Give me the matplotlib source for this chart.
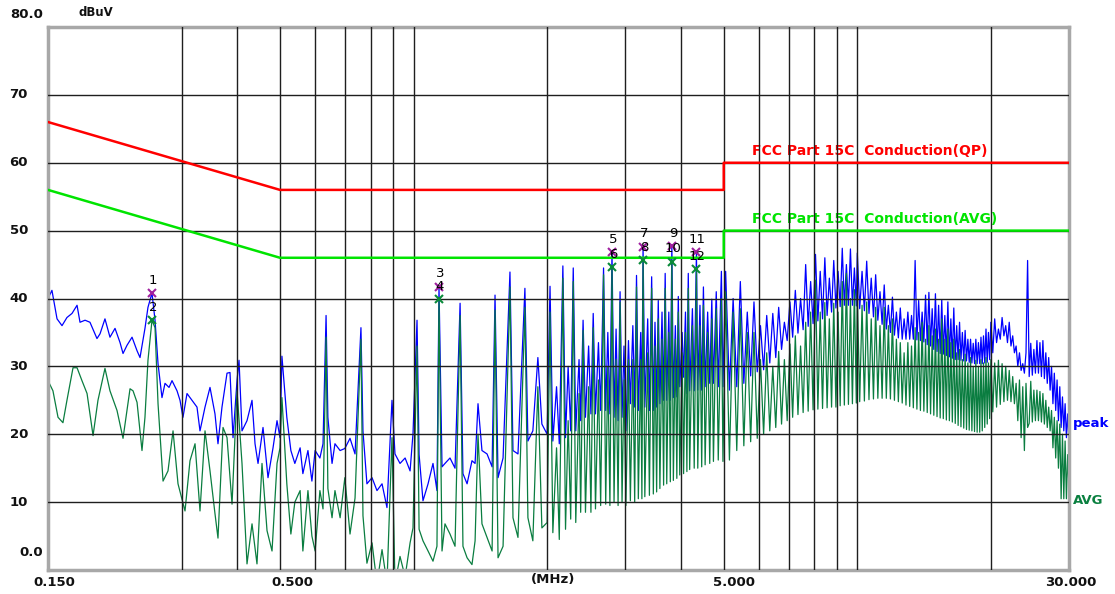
import numpy as np
import matplotlib
matplotlib.use("Agg")
import matplotlib.pyplot as plt
from matplotlib.ticker import NullLocator

# ---------------- data (MHz, dBuV) ----------------
# Region A 0.15-0.5 MHz (peak and average sampled separately)
A_peak_f = [0.150, 0.1531, 0.1572, 0.1613, 0.1655, 0.1699, 0.1744, 0.1771, 0.1818, 0.1865,
            0.1934, 0.1965, 0.2016, 0.2069, 0.2124, 0.2180, 0.2214, 0.2260, 0.2320, 0.2381,
            0.2418, 0.2481, 0.2520, 0.2573, 0.2614, 0.2655, 0.2710, 0.2753, 0.2811, 0.2855,
            0.2930, 0.2976, 0.3022, 0.3086, 0.3167, 0.3250, 0.3301, 0.3388, 0.3477, 0.3568,
            0.3624, 0.3700, 0.3798, 0.3857, 0.3918, 0.4000, 0.4042, 0.4105, 0.4213, 0.4324,
            0.4392, 0.4461, 0.4578, 0.4698, 0.4822, 0.4923]
A_peak_db = [40, 41.2, 37, 36, 37.2, 37.8, 39, 36.5, 36.8, 36.5,
             34.1, 34.8, 37, 34.3, 35.6, 33.5, 31.9, 33.1, 34.3, 32.3,
             31.3, 35.6, 38.7, 40.8, 36.8, 30.4, 25.4, 27.5, 26.9, 27.9,
             26.4, 25, 22.5, 26, 25, 24, 20.5, 24, 26.9, 23,
             18.6, 24, 29, 29.1, 19.5, 27.9, 30.9, 20.5, 22, 25,
             18.6, 15.7, 21, 13.6, 18, 22]
A_avg_f = [0.150, 0.1539, 0.1580, 0.1621, 0.1655, 0.1708, 0.1744, 0.1789, 0.1837, 0.1895,
           0.1944, 0.2016, 0.2069, 0.2146, 0.2214, 0.2296, 0.2332, 0.2381, 0.2443, 0.2481,
           0.2520, 0.2573, 0.2614, 0.2655, 0.2725, 0.2796, 0.2870, 0.2945, 0.3054, 0.3134,
           0.3217, 0.3301, 0.3388, 0.3477, 0.3568, 0.3624, 0.3720, 0.3798, 0.3898, 0.4000,
           0.4105, 0.4213, 0.4324, 0.4437, 0.4554, 0.4674, 0.4797, 0.4923]
A_avg_db = [27.9, 26.4, 22.5, 21.7, 25, 29.8, 29.8, 27.9, 26, 19.8,
            25, 29.7, 26.4, 23.5, 19.4, 26.7, 26.4, 24.7, 17.6, 22.5,
            30.9, 36.8, 35.7, 24.5, 13.1, 14.6, 20.5, 12.7, 8.7, 16.1,
            18.6, 8.7, 20.5, 14.6, 8.3, 4.7, 21, 19.5, 9.7, 26.4,
            15.7, 0.9, 6.8, 0.9, 15.7, 5.8, 2.8, 15.7]

# Region B 0.5-2 MHz (shared sweep points)
B_f = [0.500, 0.505, 0.518, 0.529, 0.540, 0.555, 0.563, 0.578, 0.590, 0.600,
       0.615, 0.625, 0.635, 0.641, 0.655, 0.665, 0.683, 0.700, 0.719, 0.738,
       0.761, 0.769, 0.785, 0.806, 0.827, 0.849, 0.871, 0.894, 0.908, 0.932,
       0.957, 0.982, 0.997, 1.018, 1.029, 1.050, 1.078, 1.106, 1.129, 1.141,
       1.159, 1.177, 1.208, 1.240, 1.273, 1.292, 1.320, 1.354, 1.376, 1.397,
       1.426, 1.464, 1.503, 1.526, 1.550, 1.591, 1.649, 1.675, 1.719, 1.782,
       1.810, 1.857, 1.906, 1.946]
B_peak = [19.5, 31.5, 22.5, 17.6, 15.7, 18, 14.2, 17.6, 13.1, 17.6,
          16.5, 18.6, 37.5, 22.5, 15.7, 18.6, 17.6, 17.9, 19.4, 17.1,
          35.7, 20.5, 12.7, 13.6, 11.7, 12.7, 9.2, 25, 17.1, 15.7,
          16.5, 14.6, 20.1, 36.8, 17, 10.2, 12.7, 15.7, 11.7, 41.7,
          15.2, 15.7, 16.5, 15, 39.3, 14.2, 12.7, 16.1, 15.7, 24.5,
          17.6, 17.1, 15.2, 40.5, 13.6, 16.5, 43.9, 17.6, 17.1, 41.5,
          19, 20.5, 31.3, 21.5]
B_avg = [18, 25.4, 12.7, 5.3, 10, 11.7, 2.8, 11.7, 5, 2.8,
         11.7, 9, 34.3, 12, 7.7, 11.7, 7.7, 13.6, 5.3, 10.6,
         34, 8, 1.0, 4, -2, 3, -2, 19.5, -2, 2,
         -1, 4, 6.2, 33, 6, 4.3, 2.8, 1.3, 3.5, 39.9,
         2.8, 6.8, 5.3, 3.5, 37.5, 3.5, 1.8, 0.8, 4.3, 20,
         6.8, 4.8, 2.8, 38.3, 1.8, 3.5, 41.7, 7.7, 4.8, 38.7,
         7.7, 4.3, 27, 6.2]

# Region C 2-5 MHz
C_f = [2.00, 2.03, 2.06, 2.10, 2.13, 2.17, 2.20, 2.23, 2.26, 2.29,
       2.32, 2.36, 2.38, 2.41, 2.44, 2.48, 2.51, 2.54, 2.57, 2.61,
       2.64, 2.68, 2.71, 2.74, 2.77, 2.80, 2.83, 2.86, 2.89, 2.92,
       2.95, 2.98, 3.01, 3.05, 3.08, 3.12, 3.15, 3.18, 3.21, 3.25,
       3.27, 3.29, 3.32, 3.37, 3.40, 3.44, 3.47, 3.50, 3.53, 3.56,
       3.59, 3.63, 3.66, 3.69, 3.72, 3.76, 3.79, 3.82, 3.85, 3.89,
       3.92, 3.95, 3.98, 4.03, 4.06, 4.10, 4.13, 4.16, 4.19, 4.25,
       4.29, 4.34, 4.37, 4.42, 4.46, 4.50, 4.54, 4.60, 4.65, 4.70,
       4.74, 4.81, 4.86, 4.94, 4.98]
C_peak = [20, 41.8, 19, 27, 18.6, 44.8, 19.5, 30, 20.5, 44.5,
          20.5, 31, 22, 36.8, 22.5, 33, 23, 37.8, 23, 33.5,
          23.5, 44.5, 23.5, 35, 23, 46.8, 22.5, 35.5, 22, 41,
          22.5, 33, 20.5, 33.8, 24.5, 36, 24, 43.4, 23.5, 35,
          24, 47.6, 24, 37, 23.5, 43.2, 23.5, 36.5, 24, 39.7,
          24.5, 38, 25, 43.7, 25, 38, 25, 47.7, 25.4, 36,
          25.5, 40.3, 27, 35, 28.4, 38, 26, 43.7, 26.4, 38.5,
          26.4, 46.8, 26.5, 39, 26.5, 41.7, 27, 38, 27.5, 39.9,
          27.5, 41, 27, 44, 27]
C_avg = [7, 38, 5.5, 18, 4.5, 43, 6, 22, 7.5, 42.5,
         7, 26, 8.5, 35.3, 8.5, 27, 8.5, 35.7, 9, 28,
         9.5, 43.5, 9.7, 30, 9.5, 44.6, 10, 31, 9.5, 39.5,
         10, 28, 9.5, 31, 10.2, 31, 10, 41.7, 10.5, 31,
         10.5, 45.6, 10.8, 32, 11, 41.5, 11.2, 33, 11.5, 37,
         12, 34, 12.5, 41.5, 12.7, 35, 13, 45.4, 13.2, 34,
         13.5, 38, 14, 32, 14.2, 35, 14.5, 41.5, 14.8, 36,
         15, 44.3, 15, 36, 15.2, 39, 15.5, 35, 15.7, 37,
         16, 38.5, 16.2, 40, 16]

# Region D1 5-10 MHz
D1_f = [5.05, 5.15, 5.25, 5.35, 5.45, 5.55, 5.65, 5.75, 5.85, 5.95,
        6.05, 6.15, 6.25, 6.35, 6.45, 6.55, 6.65, 6.75, 6.85, 6.95,
        7.05, 7.15, 7.25, 7.35, 7.45, 7.55, 7.65, 7.75, 7.85, 7.95,
        8.05, 8.15, 8.25, 8.35, 8.45, 8.55, 8.65, 8.75, 8.85, 8.95,
        9.05, 9.15, 9.25, 9.35, 9.45, 9.55, 9.65, 9.75, 9.85, 9.95]
D1_peak = [44, 26.5, 40, 27, 42.5, 27.5, 38, 28.6, 39.5, 29.2,
           36, 29.5, 37.5, 30.5, 37.8, 31.3, 38.7, 32.5, 36.5, 33.8,
           39.5, 34.3, 41.2, 34.9, 40, 35.4, 45, 35.9, 42.5, 36.3,
           46.5, 36.7, 44, 37, 46, 37.5, 43, 38, 45.6, 38.6,
           44, 38.8, 47.4, 39, 45, 39, 47.3, 39, 44.5, 38.9]
D1_avg = [41, 16.2, 38, 17.6, 38.5, 18.3, 35, 18.9, 35, 19.4,
          31, 20, 32, 20.5, 30, 21, 32.2, 21.5, 31, 22,
          33.3, 22.5, 34.5, 22.9, 33, 23.2, 36.5, 23.4, 38, 23.6,
          42.7, 23.7, 38, 23.8, 39.4, 23.9, 37, 24, 39.3, 24,
          38, 24.2, 42.5, 24.3, 43.7, 24.4, 40, 24.5, 41.3, 24.6]

# Region D2 10-20 MHz
D2_f = [10.0, 10.125, 10.25, 10.375, 10.5, 10.625, 10.75, 10.875,
        11.0, 11.125, 11.25, 11.375, 11.5, 11.625, 11.75, 11.875,
        12.0, 12.125, 12.25, 12.375, 12.5, 12.625, 12.75, 12.875,
        13.0, 13.125, 13.25, 13.375, 13.5, 13.625, 13.75, 13.875,
        14.0, 14.125, 14.25, 14.375, 14.5, 14.625, 14.75, 14.875,
        15.0, 15.125, 15.25, 15.375, 15.5, 15.625, 15.75, 15.875,
        16.0, 16.125, 16.25, 16.375, 16.5, 16.625, 16.75, 16.875,
        17.0, 17.125, 17.25, 17.375, 17.5, 17.625, 17.75, 17.875,
        18.0, 18.125, 18.25, 18.375, 18.5, 18.625, 18.75, 18.875,
        19.0, 19.125, 19.25, 19.375, 19.5, 19.625, 19.75, 19.875]
D2_peak = [46.7, 38.5, 44, 38.2, 45.5, 37.8, 43, 37.3, 43.5, 36.8,
           41, 36.2, 42, 35.5, 39, 35, 40.2, 34.6, 38, 34.2,
           38.6, 34, 37, 34, 38, 34, 37.5, 34, 45.6, 33.9,
           39.7, 33.8, 38, 33.6, 40.5, 33.2, 40.9, 33, 38.5, 32.5,
           40.7, 32.2, 39, 31.9, 39.8, 31.8, 37.5, 31.6, 39.5, 31.4,
           37, 31.2, 38.6, 31, 36, 31, 36.5, 30.9, 35, 30.8,
           35.3, 30.8, 34, 30.6, 34, 30.5, 33.4, 30.4, 34, 30.4,
           33.5, 30.4, 34.3, 30.4, 34.5, 30.5, 35.5, 30.6, 35, 31]
D2_avg = [41, 24.8, 39, 24.9, 39.5, 25.1, 37, 25.2, 38.7, 25.3,
          36, 25.3, 38.7, 25.3, 36, 25.2, 37, 25, 34, 24.8,
          33.5, 24.6, 32, 24.3, 33.5, 24.1, 33, 23.9, 35.7, 23.7,
          35, 23.5, 36.5, 23.4, 34, 23.2, 36, 23, 34.5, 22.8,
          35.5, 22.6, 34, 22.4, 37, 22.3, 34, 22.1, 35.5, 22,
          33.5, 21.8, 34, 21.6, 32, 21.3, 32.5, 21.1, 31, 20.9,
          31.8, 20.7, 30.5, 20.6, 31.3, 20.5, 30, 20.4, 30.9, 20.3,
          30, 20.3, 31, 20.5, 30.5, 21, 31.3, 21.5, 30.5, 22.3]

# Region D3 20-30 MHz
D3_f = [20.0, 20.2, 20.4, 20.6, 20.8, 21.0, 21.2, 21.4, 21.6, 21.8,
        22.0, 22.2, 22.4, 22.6, 22.8, 23.0, 23.2, 23.4, 23.6, 23.8,
        24.0, 24.2, 24.4, 24.6, 24.8, 25.0, 25.2, 25.4, 25.6, 25.8,
        26.0, 26.2, 26.4, 26.6, 26.8, 27.0, 27.2, 27.4, 27.6, 27.8,
        28.0, 28.2, 28.4, 28.6, 28.8, 29.0, 29.2, 29.4, 29.6, 29.8, 30.0]
D3_peak = [36.5, 32, 37, 33.5, 35.5, 34, 37.2, 34.5, 36, 33.5,
           36.5, 33, 34.5, 32, 33, 30, 32, 29.4, 30.4, 29,
           32, 45.6, 28.5, 33.4, 28.7, 32.5, 29, 33.8, 29, 33.5,
           28.5, 33.8, 28.2, 32, 27.5, 31.3, 26.5, 30, 24.5, 29,
           23.5, 28, 22, 27, 21, 25.5, 20.5, 24.5, 19.5, 23, 19]
D3_avg = [31, 23.3, 30.5, 24, 30.9, 24.4, 30.4, 24.8, 30, 25,
          29.4, 24.8, 28.5, 24.5, 27.5, 22, 28, 19.5, 27, 17.6,
          27.5, 21, 21.6, 27.8, 21.8, 26.5, 22, 26.5, 22, 26.3,
          21.8, 26, 21.5, 25, 21, 24, 20.5, 23.5, 18, 22.5,
          16.5, 22, 15, 21.5, 10.5, 20, 10.5, 19, 10.5, 17, 12]

# Limit lines
qp_limit_f = [0.15, 0.5, 5.0, 5.0, 30.0]
qp_limit_db = [66, 56, 56, 60, 60]
avg_limit_f = [0.15, 0.5, 5.0, 5.0, 30.0]
avg_limit_db = [56, 46, 46, 50, 50]

# Markers
peak_mark_id = ["1", "3", "5", "7", "9", "11"]
peak_mark_f = [0.2573, 1.141, 2.80, 3.29, 3.82, 4.34]
peak_mark_db = [40.8, 41.7, 46.8, 47.6, 47.7, 46.8]
avg_mark_id = ["2", "4", "6", "8", "10", "12"]
avg_mark_f = [0.2573, 1.141, 2.80, 3.29, 3.82, 4.34]
avg_mark_db = [36.8, 39.9, 44.6, 45.6, 45.4, 44.3]

grid_x = [0.3, 0.4, 0.5, 0.6, 0.7, 0.8, 0.9, 1, 2, 3, 4, 5, 6, 7, 8, 9, 10, 20]
grid_y = [10, 20, 30, 40, 50, 60, 70]

# ---------------- assemble ----------------
peak_f = A_peak_f + B_f + C_f + D1_f + D2_f + D3_f
peak_db = A_peak_db + B_peak + C_peak + D1_peak + D2_peak + D3_peak
avg_f = A_avg_f + B_f + C_f + D1_f + D2_f + D3_f
avg_db = A_avg_db + B_avg + C_avg + D1_avg + D2_avg + D3_avg

W, H = 1115, 594
fig = plt.figure(figsize=(W / 100, H / 100), dpi=100)
fig.patch.set_facecolor("white")
L, R, T, B = 48, 1069, 27, 570
ax = fig.add_axes([L / W, 1 - B / H, (R - L) / W, (B - T) / H])
ax.set_xscale("log")
ax.set_xlim(0.15, 30)
ax.set_ylim(0, 80)
ax.set_xticks(grid_x)
ax.set_yticks(grid_y)
ax.xaxis.set_minor_locator(NullLocator())
ax.tick_params(length=0, labelbottom=False, labelleft=False)
ax.set_axisbelow(False)
ax.grid(True, color="#1e1e1e", lw=1.0)
for sp in ax.spines.values():
    sp.set_color("#a8a8a8")
    sp.set_linewidth(2.5)

ax.plot(peak_f, peak_db, color="#0000ff", lw=0.9, zorder=2.0)
ax.plot(avg_f, avg_db, color="#0a7d40", lw=0.9, zorder=2.1)

ax.plot(qp_limit_f, qp_limit_db, color="#ff0000", lw=1.8, zorder=3)
ax.plot(avg_limit_f, avg_limit_db, color="#00e400", lw=1.8, zorder=3)

ax.plot(peak_mark_f, peak_mark_db, ls="none", marker="x", ms=6, mew=1.5,
        color="#a0209f", zorder=4)
ax.plot(avg_mark_f, avg_mark_db, ls="none", marker="x", ms=6, mew=1.5,
        color="#0a8a3a", zorder=4)
for lab, f, v in zip(peak_mark_id + avg_mark_id, peak_mark_f + avg_mark_f,
                     peak_mark_db + avg_mark_db):
    ax.annotate(lab, xy=(f, v), xytext=(1, 13), textcoords="offset pixels",
                ha="center", va="center", fontsize=9.5, color="black", zorder=5)


def ftext(x, y, s, **kw):
    fig.text(x / W, 1 - y / H, s, **kw)


lab_kw = dict(fontsize=9.5, fontweight="bold", color="#111111", va="center")
ftext(43, 15, "80.0", ha="right", **lab_kw)
for v in grid_y:
    ftext(28, B - v * (B - T) / 80, str(v), ha="right", **lab_kw)
ftext(43, 553, "0.0", ha="right", **lab_kw)
ftext(96, 12, "dBuV", ha="center", fontsize=8.5, fontweight="bold",
      color="#111111", va="center")

ftext(54, 582, "0.150", ha="center", **lab_kw)
ftext(292, 582, "0.500", ha="center", **lab_kw)
ftext(553, 580, "(MHz)", ha="center", **lab_kw)
ftext(734, 582, "5.000", ha="center", **lab_kw)
ftext(1071, 582, "30.000", ha="center", **lab_kw)

ftext(1073, 424, "peak", ha="left", fontsize=9.5, fontweight="bold",
      color="#0000ff", va="center")
ftext(1073, 500, "AVG", ha="left", fontsize=9.5, fontweight="bold",
      color="#0a8040", va="center")

ax.text(5.8, 61.7, "FCC Part 15C  Conduction(QP)", fontsize=10, fontweight="bold",
        color="#ff0000", va="center", ha="left", zorder=1)
ax.text(5.8, 51.7, "FCC Part 15C  Conduction(AVG)", fontsize=10, fontweight="bold",
        color="#00e400", va="center", ha="left", zorder=1)

fig.savefig("out.png", dpi=100)
